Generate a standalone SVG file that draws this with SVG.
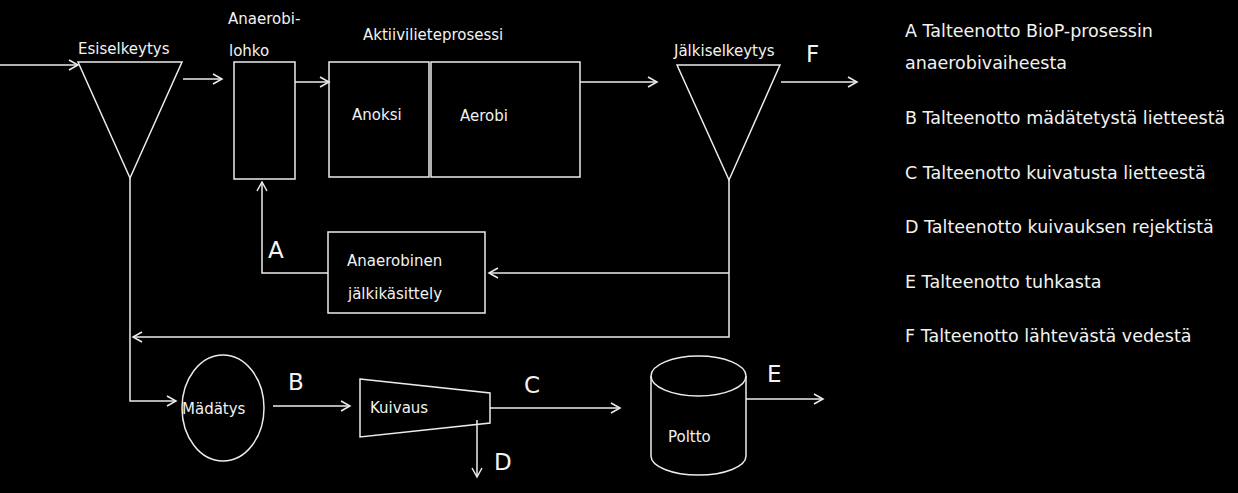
<svg xmlns="http://www.w3.org/2000/svg" width="1238" height="493" viewBox="0 0 1238 493">
<style>
.s{fill:none;stroke:#ececec;stroke-width:1.5}
.t{font-family:"DejaVu Sans",Verdana,sans-serif;fill:#f2f2f2;font-size:15px}
.big{font-family:"DejaVu Sans",Verdana,sans-serif;fill:#f2f2f2;font-size:23px}
.lg{font-family:"DejaVu Sans",Verdana,sans-serif;fill:#f2f2f2;font-size:17.5px}
</style>
<defs>
<marker id="ah" markerWidth="12" markerHeight="12" refX="10" refY="6" orient="auto" markerUnits="userSpaceOnUse">
<path d="M1,1 L10,6 L1,11" fill="none" stroke="#ececec" stroke-width="1.5"/>
</marker>
</defs>
<rect width="1238" height="493" fill="#000"/>
<g id="connectors">
<path class="s" d="M0,65 H78" marker-end="url(#ah)"/>
<path class="s" d="M183,79 H222" marker-end="url(#ah)"/>
<path class="s" d="M295,82 H329" marker-end="url(#ah)"/>
<path class="s" d="M580,82 H657" marker-end="url(#ah)"/>
<path class="s" d="M781,82 H857" marker-end="url(#ah)"/>
<path class="s" d="M729,180 V337 H133" marker-end="url(#ah)"/>
<path class="s" d="M729,273 H489" marker-end="url(#ah)"/>
<path class="s" d="M328,273 H262 V182" marker-end="url(#ah)"/>
<path class="s" d="M130,178 V401 H176" marker-end="url(#ah)"/>
<path class="s" d="M273,406 H350" marker-end="url(#ah)"/>
<path class="s" d="M490,408 H620" marker-end="url(#ah)"/>
<path class="s" d="M477,420 V477" marker-end="url(#ah)"/>
<path class="s" d="M746,399 H823" marker-end="url(#ah)"/>
<text class="big" x="268" y="258">A</text>
<text class="big" x="288" y="390">B</text>
<text class="big" x="524" y="393">C</text>
<text class="big" x="494" y="470">D</text>
<text class="big" x="767" y="382">E</text>
<text class="big" x="806" y="62">F</text>
</g>
<g id="esiselkeytys">
<path class="s" d="M78,62 H182 L130,178 Z"/>
<text class="t" x="78" y="54">Esiselkeytys</text>
</g>
<g id="anaerobilohko">
<rect class="s" x="234" y="62" width="61" height="117"/>
<text class="t" x="228" y="24">Anaerobi-</text>
<text class="t" x="229" y="56">lohko</text>
</g>
<g id="aktiiviliete">
<text class="t" x="363" y="40">Aktiivilieteprosessi</text>
</g>
<g id="anoksi">
<rect class="s" x="329" y="62" width="100" height="115"/>
<text class="t" x="352" y="120">Anoksi</text>
</g>
<g id="aerobi">
<rect class="s" x="431" y="62" width="149" height="115"/>
<text class="t" x="460" y="121">Aerobi</text>
</g>
<g id="jalkiselkeytys">
<path class="s" d="M677,65 H780 L729,180 Z"/>
<text class="t" x="674" y="56">Jälkiselkeytys</text>
</g>
<g id="anaerobinen">
<rect class="s" x="328" y="232" width="157" height="81"/>
<text class="t" x="347" y="266">Anaerobinen</text>
<text class="t" x="348" y="299">jälkikäsittely</text>
</g>
<g id="madatys">
<ellipse class="s" cx="223" cy="408" rx="41" ry="53"/>
<text class="t" x="182" y="414">Mädätys</text>
</g>
<g id="kuivaus">
<path class="s" d="M360,379 L490,393 V423 L360,437 Z"/>
<text class="t" x="370" y="413">Kuivaus</text>
</g>
<g id="poltto">
<path class="s" d="M651,376 V456 A47.5,19 0 0 0 746,456 V376"/>
<ellipse class="s" cx="698.5" cy="376" rx="47.5" ry="20"/>
<text class="t" x="668" y="442">Poltto</text>
</g>
<g id="legend">
<text class="lg" x="905" y="37">A Talteenotto BioP-prosessin</text>
<text class="lg" x="905" y="69">anaerobivaiheesta</text>
<text class="lg" x="905" y="124">B Talteenotto mädätetystä lietteestä</text>
<text class="lg" x="905" y="179">C Talteenotto kuivatusta lietteestä</text>
<text class="lg" x="905" y="233">D Talteenotto kuivauksen rejektistä</text>
<text class="lg" x="905" y="288">E Talteenotto tuhkasta</text>
<text class="lg" x="905" y="342">F Talteenotto lähtevästä vedestä</text>
</g>
</svg>
